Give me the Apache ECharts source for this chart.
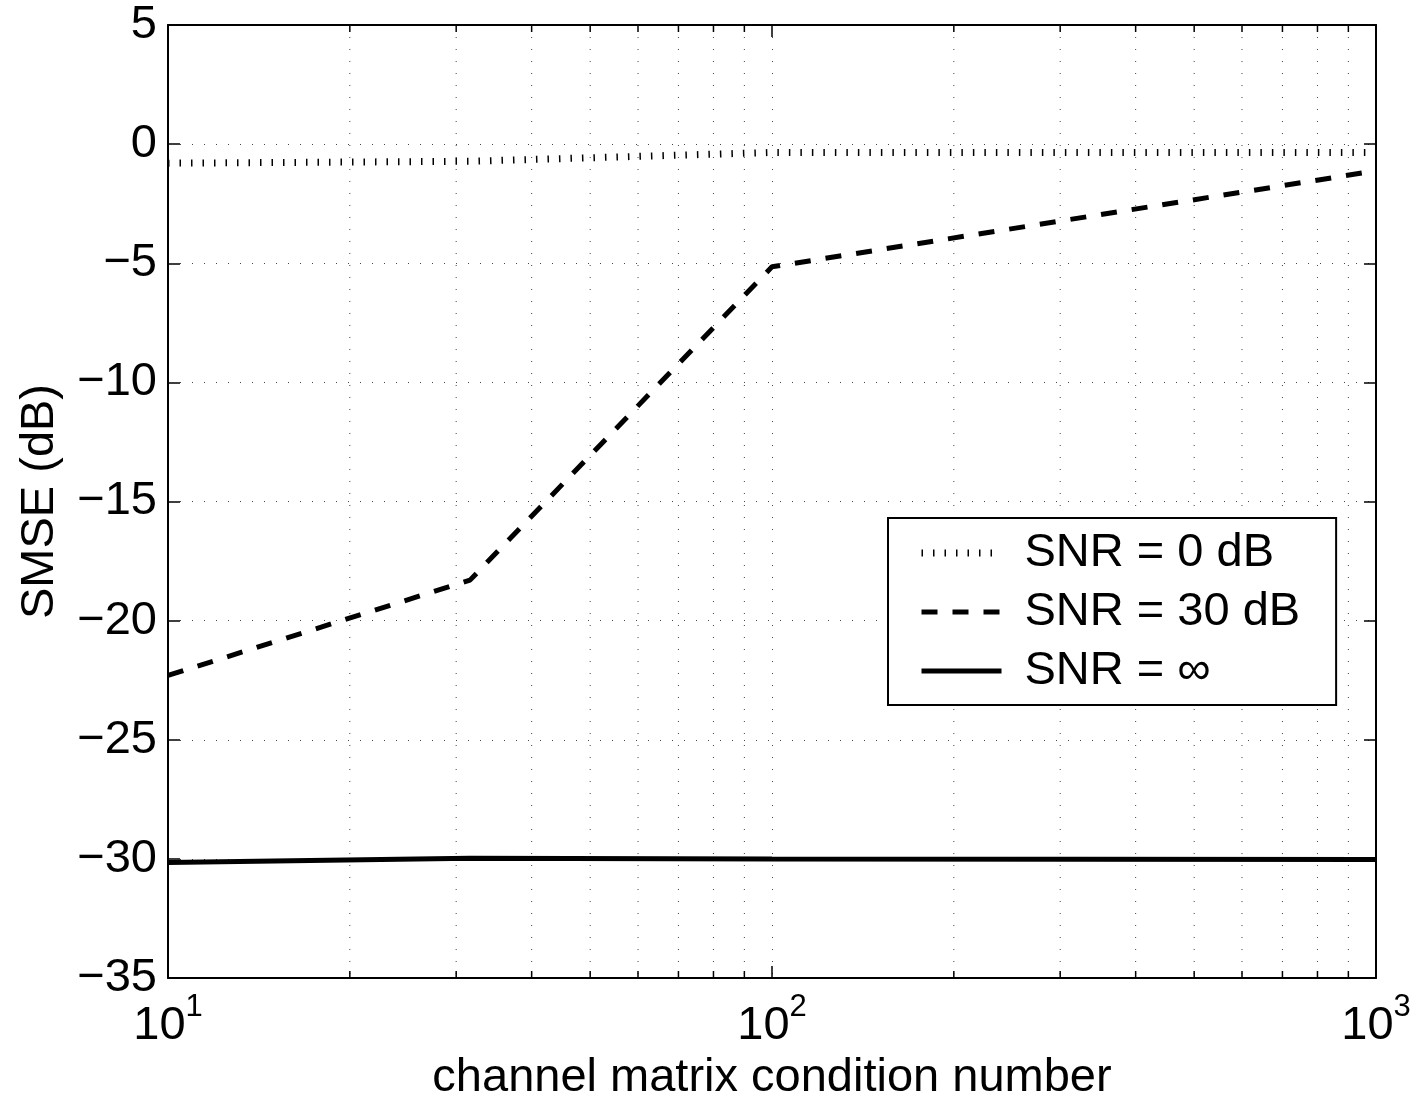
<!DOCTYPE html>
<html>
<head>
<meta charset="utf-8">
<script src="https://cdn.jsdelivr.net/npm/echarts@6/dist/echarts.min.js"></script>
<style>html,body{margin:0;padding:0;background:#fff;}#c{width:1413px;height:1099px;}</style>
</head>
<body>
<div id="c"></div>
<script>
// ---- data ----
var conditionNumbers = [10, 31.62, 100, 1000];
var smseSnr0 = [-0.8, -0.72, -0.35, -0.35];
var smseSnr30 = [-22.3, -18.3, -5.15, -1.12];
var smseSnrInf = [-30.15, -29.97, -30.0, -30.03];
var seriesNames = ['SNR = 0 dB', 'SNR = 30 dB', 'SNR = \u221E'];
var minorTicks = [20, 30, 40, 50, 60, 70, 80, 90, 200, 300, 400, 500, 600, 700, 800, 900];
var yTicks = [-35, -30, -25, -20, -15, -10, -5, 0, 5];

var FONT = '"Liberation Sans", Arial, Helvetica, sans-serif';
var FS = 47;
var gridDash = [1, 11];
var styles = [
  {width: 7, type: [1.5, 10], cap: 'butt'},
  {width: 5, type: [16, 15], cap: 'butt'},
  {width: 5, type: 'solid', cap: 'butt'}
];

function pairs(xs, ys) { return xs.map(function (x, i) { return [x, ys[i]]; }); }

var chart = echarts.init(document.getElementById('c'), null, {renderer: 'canvas'});

function lineSeries(i, values) {
  return {
    type: 'line', name: seriesNames[i],
    data: pairs(conditionNumbers, values),
    symbol: 'none', z: 3,
    lineStyle: Object.assign({color: '#000'}, styles[i]),
    itemStyle: {color: '#000'}
  };
}

var option = {
  animation: false,
  backgroundColor: '#fff',
  textStyle: {fontFamily: FONT},
  grid: {left: 168, top: 25, right: 37, bottom: 121, containLabel: false, outerBoundsMode: 'none'},
  legend: {
    orient: 'vertical',
    left: 888, top: 518,
    data: seriesNames.map(function (n, i) {
      return {name: n, lineStyle: Object.assign({color: '#000'}, styles[i])};
    }),
    backgroundColor: '#fff',
    borderColor: '#000', borderWidth: 2, borderRadius: 0,
    padding: [9, 36, 8, 30],
    itemGap: 7,
    itemWidth: 80, itemHeight: 14,
    itemStyle: {color: 'rgba(0,0,0,0)', borderWidth: 0, opacity: 0},
    textStyle: {fontFamily: FONT, fontSize: FS, color: '#000', lineHeight: 52, padding: [0, 0, 0, 18]},
    selectedMode: false
  },
  xAxis: [{
    type: 'log', logBase: 10, min: 10, max: 1000,
    position: 'bottom',
    name: 'channel matrix condition number',
    nameLocation: 'middle', nameGap: 69,
    nameTextStyle: {fontFamily: FONT, fontSize: FS, color: '#000'},
    axisLine: {show: true, onZero: false, lineStyle: {color: '#000', width: 2}},
    axisTick: {show: true, inside: true, length: 12, lineStyle: {color: '#000', width: 1.5}},
    splitLine: {show: true, lineStyle: {color: '#444', width: 1, type: gridDash}},
    axisLabel: {
      margin: 14,
      formatter: function (v) { return '{b|10}{s|' + Math.round(Math.log10(v)) + '}'; },
      rich: {
        b: {fontFamily: FONT, fontSize: FS, color: '#000', lineHeight: 58, verticalAlign: 'bottom'},
        s: {fontFamily: FONT, fontSize: 31, color: '#000', lineHeight: 34, verticalAlign: 'top'}
      }
    }
  }, {
    type: 'log', logBase: 10, min: 10, max: 1000,
    position: 'top',
    axisLine: {show: true, onZero: false, lineStyle: {color: '#000', width: 2}},
    axisTick: {show: true, inside: true, length: 12, lineStyle: {color: '#000', width: 1.5}},
    axisLabel: {show: false},
    splitLine: {show: false}
  }],
  yAxis: [{
    type: 'value', min: -35, max: 5, interval: 5,
    position: 'left',
    name: 'SMSE (dB)',
    nameLocation: 'middle', nameGap: 104,
    nameTextStyle: {fontFamily: FONT, fontSize: FS, color: '#000'},
    axisLine: {show: true, onZero: false, lineStyle: {color: '#000', width: 2}},
    axisTick: {show: true, inside: true, length: 12, lineStyle: {color: '#000', width: 1.5}},
    splitLine: {show: true, lineStyle: {color: '#444', width: 1, type: gridDash}},
    axisLabel: {
      margin: 11, fontFamily: FONT, fontSize: FS, color: '#000',
      formatter: function (v) { return String(v).replace('-', '\u2212'); }
    }
  }, {
    type: 'value', min: -35, max: 5, interval: 5,
    position: 'right',
    axisLine: {show: true, onZero: false, lineStyle: {color: '#000', width: 2}},
    axisTick: {show: true, inside: true, length: 12, lineStyle: {color: '#000', width: 1.5}},
    axisLabel: {show: false},
    splitLine: {show: false}
  }],
  series: [
    {
      type: 'custom',
      name: 'minor',
      xAxisIndex: 0, yAxisIndex: 0,
      silent: true, clip: false, z: 1,
      data: minorTicks.map(function (v) { return [v]; }),
      encode: {x: 0},
      renderItem: function (params, api) {
        var v = api.value(0);
        var top = api.coord([v, yTicks[yTicks.length - 1]]);
        var bot = api.coord([v, yTicks[0]]);
        return {
          type: 'group',
          children: [
            {type: 'line', shape: {x1: top[0], y1: top[1], x2: bot[0], y2: bot[1]},
             style: {stroke: '#444', lineWidth: 1, lineDash: gridDash}},
            {type: 'line', shape: {x1: bot[0], y1: bot[1], x2: bot[0], y2: bot[1] - 7},
             style: {stroke: '#000', lineWidth: 1.5}},
            {type: 'line', shape: {x1: top[0], y1: top[1], x2: top[0], y2: top[1] + 7},
             style: {stroke: '#000', lineWidth: 1.5}}
          ]
        };
      }
    },
    lineSeries(0, smseSnr0),
    lineSeries(1, smseSnr30),
    lineSeries(2, smseSnrInf)
  ]
};
chart.setOption(option);
</script>
</body>
</html>
